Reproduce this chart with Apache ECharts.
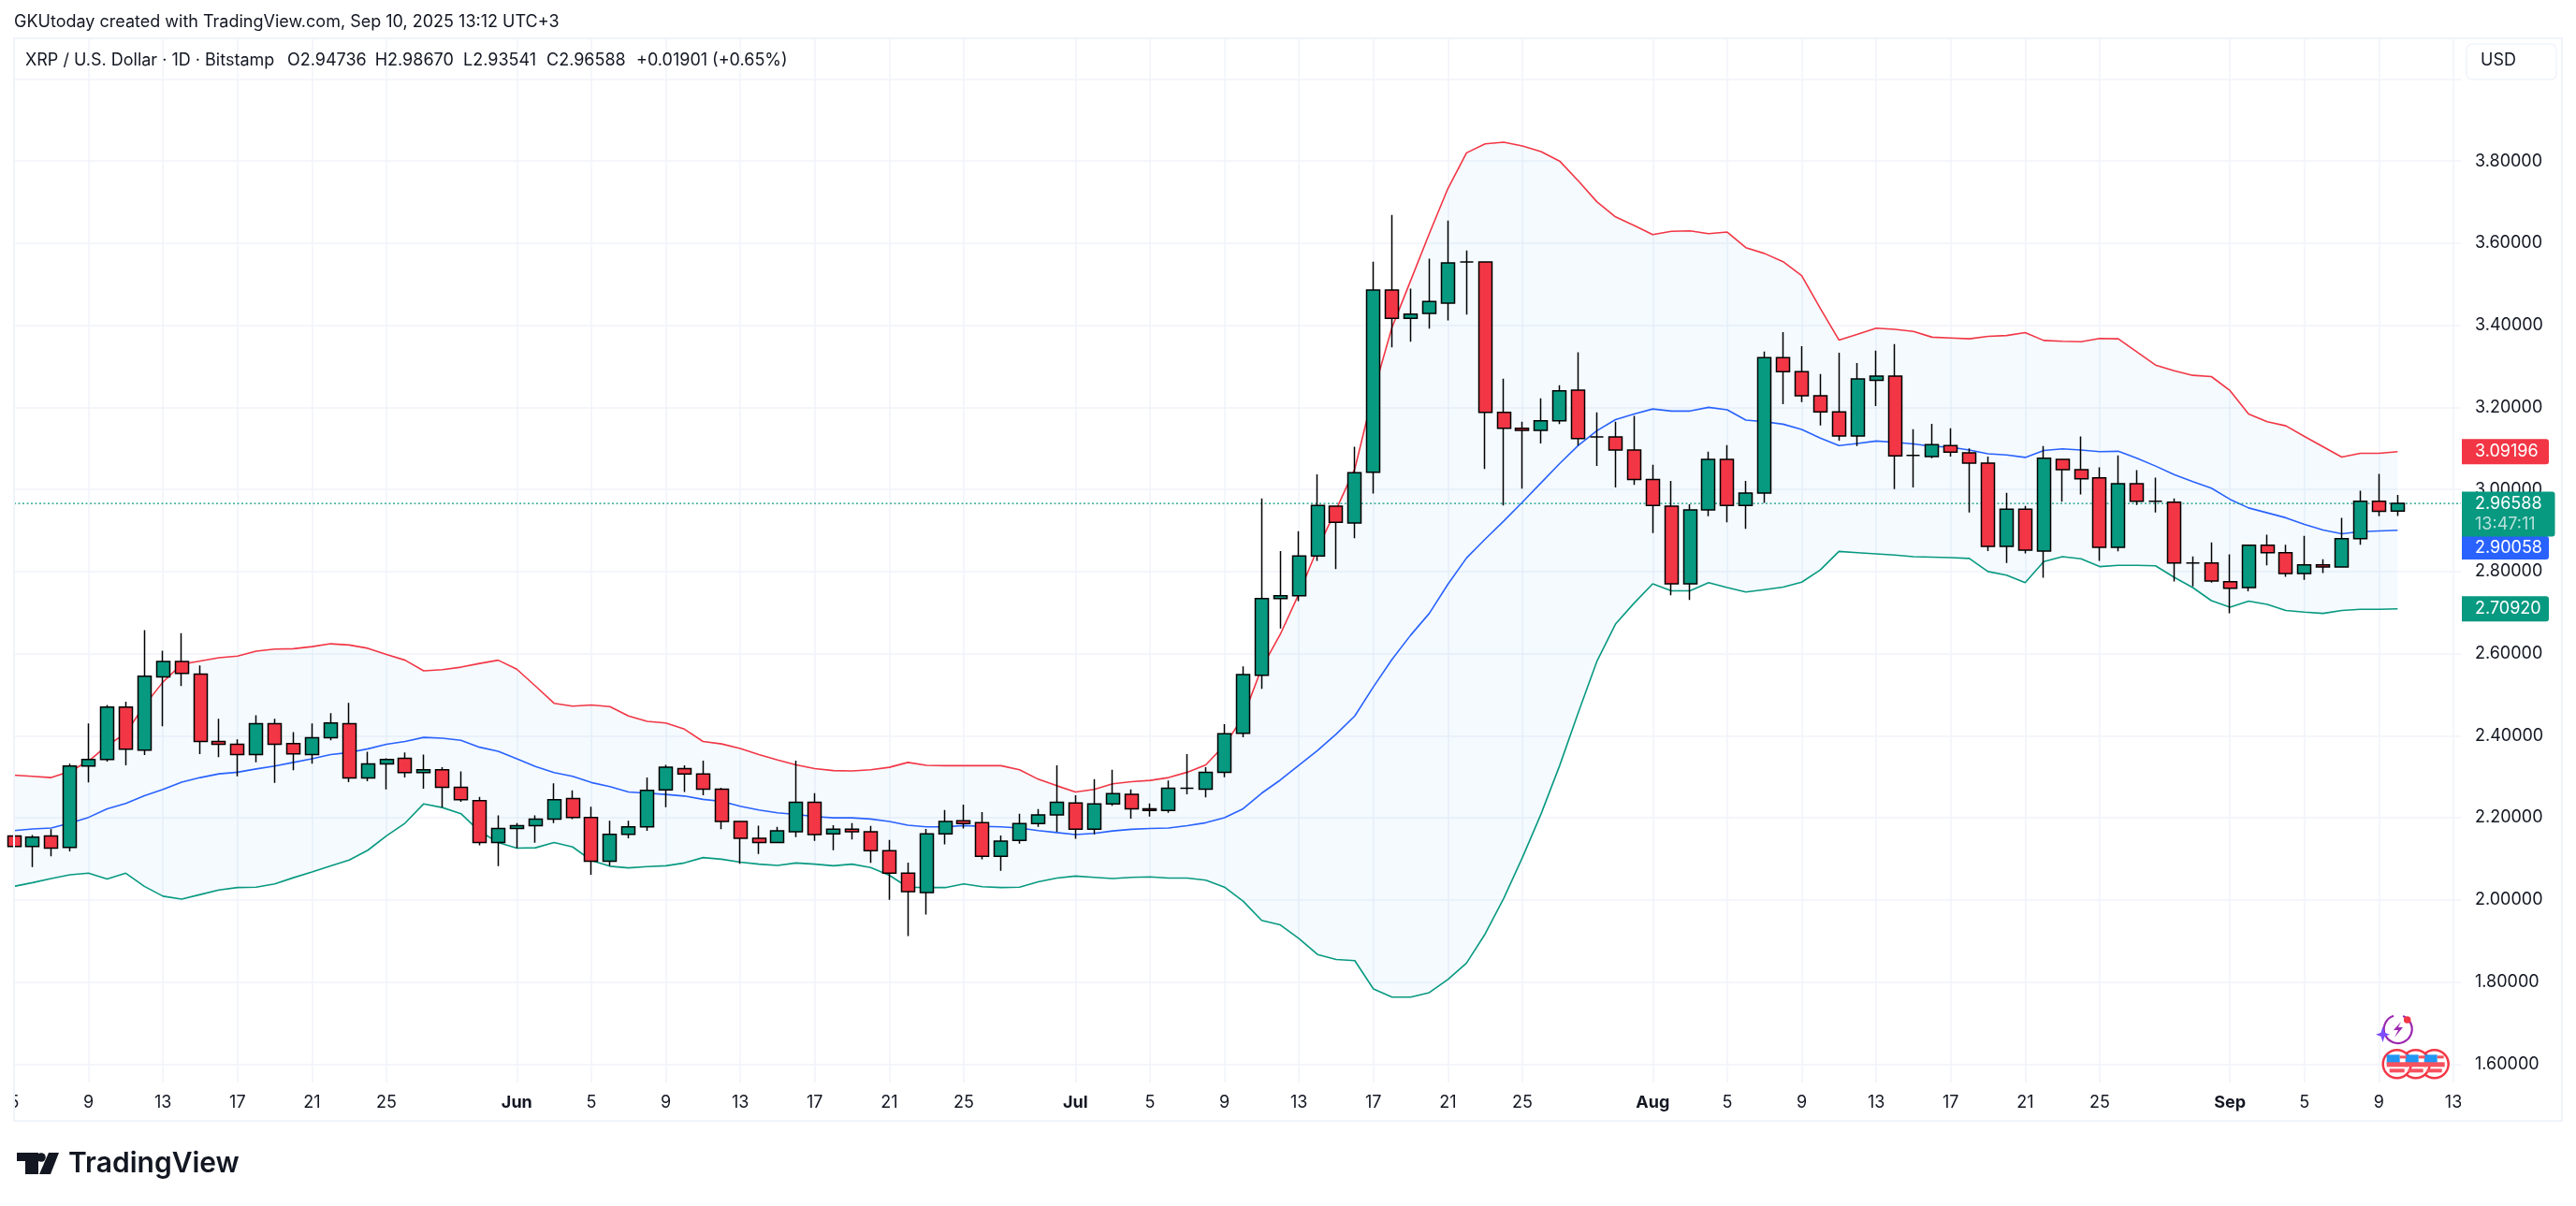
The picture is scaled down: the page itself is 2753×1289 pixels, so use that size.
<!DOCTYPE html>
<html>
<head>
<meta charset="utf-8">
<title>XRP / U.S. Dollar</title>
<script src="https://cdn.jsdelivr.net/npm/echarts@6/dist/echarts.min.js"></script>
<style>
  html, body { margin: 0; padding: 0; background: #fff; }
  #chart { width: 2753px; height: 1289px; }
</style>
</head>
<body>
<div id="chart"></div>
<script>
// Daily candles, index 0 = May 5, index 128 = Sep 10
const opens = [
  2.156,2.130,2.156,2.128,2.326,2.342,2.470,2.365,2.543,2.581,
  2.550,2.386,2.379,2.354,2.429,2.381,2.354,2.395,2.429,2.297,
  2.331,2.345,2.310,2.317,2.274,2.242,2.140,2.174,2.181,2.197,
  2.247,2.201,2.094,2.160,2.178,2.268,2.320,2.307,2.270,2.191,
  2.150,2.140,2.166,2.238,2.161,2.172,2.166,2.120,2.065,2.018,
  2.161,2.193,2.188,2.106,2.145,2.186,2.207,2.236,2.172,2.234,
  2.257,2.222,2.218,2.272,2.270,2.311,2.406,2.547,2.734,2.741,
  2.838,2.959,2.918,3.042,3.486,3.417,3.429,3.454,3.554,3.554,
  3.188,3.149,3.144,3.167,3.242,3.128,3.128,3.096,3.024,2.959,
  2.770,2.950,3.073,2.961,2.991,3.321,3.287,3.228,3.189,3.130,
  3.266,3.276,3.083,3.080,3.107,3.089,3.064,2.861,2.952,2.850,
  3.073,3.048,3.028,2.859,3.014,2.971,2.969,2.821,2.821,2.775,
  2.761,2.864,2.846,2.795,2.816,2.811,2.880,2.971,2.94736
];
const closes = [
  2.130,2.153,2.126,2.326,2.342,2.470,2.367,2.545,2.581,2.552,
  2.386,2.379,2.354,2.429,2.379,2.356,2.395,2.431,2.297,2.331,
  2.342,2.310,2.317,2.274,2.244,2.140,2.174,2.181,2.197,2.244,
  2.201,2.094,2.160,2.178,2.267,2.323,2.307,2.270,2.191,2.150,
  2.140,2.168,2.238,2.159,2.172,2.166,2.120,2.065,2.020,2.161,
  2.191,2.186,2.106,2.143,2.186,2.207,2.238,2.172,2.234,2.259,
  2.222,2.218,2.272,2.272,2.311,2.405,2.549,2.734,2.741,2.838,
  2.961,2.920,3.041,3.486,3.417,3.427,3.458,3.552,3.554,3.188,
  3.149,3.144,3.167,3.240,3.124,3.128,3.096,3.024,2.961,2.770,
  2.950,3.073,2.961,2.991,3.321,3.287,3.228,3.189,3.130,3.269,
  3.276,3.082,3.083,3.109,3.091,3.064,2.861,2.952,2.852,3.076,
  3.048,3.026,2.859,3.014,2.971,2.971,2.821,2.821,2.777,2.759,
  2.864,2.846,2.795,2.816,2.811,2.880,2.971,2.947,2.96588
];
const highs = [
  2.156,2.158,2.172,2.332,2.430,2.475,2.483,2.657,2.607,2.650,
  2.571,2.441,2.391,2.450,2.441,2.409,2.430,2.455,2.480,2.361,
  2.345,2.359,2.354,2.323,2.313,2.251,2.206,2.187,2.206,2.284,
  2.267,2.227,2.193,2.193,2.298,2.329,2.328,2.339,2.273,2.193,
  2.181,2.178,2.339,2.260,2.182,2.187,2.180,2.146,2.091,2.173,
  2.219,2.232,2.214,2.157,2.210,2.221,2.328,2.255,2.294,2.317,
  2.269,2.235,2.291,2.355,2.323,2.428,2.569,2.978,2.850,2.898,
  3.037,2.959,3.104,3.555,3.669,3.489,3.562,3.655,3.582,3.554,
  3.270,3.165,3.222,3.254,3.334,3.188,3.165,3.179,3.060,3.021,
  2.964,3.092,3.108,3.021,3.336,3.383,3.349,3.281,3.333,3.308,
  3.338,3.354,3.147,3.160,3.149,3.100,3.080,2.992,2.960,3.106,
  3.073,3.129,3.054,3.083,3.047,3.029,2.978,2.837,2.871,2.842,
  2.866,2.890,2.865,2.887,2.830,2.931,2.997,3.038,2.98670
];
const lows = [
  2.130,2.080,2.106,2.118,2.286,2.337,2.328,2.353,2.423,2.521,
  2.355,2.348,2.301,2.335,2.285,2.316,2.332,2.389,2.287,2.289,
  2.269,2.298,2.271,2.225,2.239,2.133,2.082,2.126,2.139,2.187,
  2.197,2.061,2.083,2.150,2.168,2.226,2.263,2.255,2.172,2.088,
  2.112,2.140,2.153,2.144,2.121,2.147,2.090,2.000,1.912,1.964,
  2.135,2.174,2.099,2.071,2.137,2.178,2.166,2.149,2.160,2.229,
  2.198,2.203,2.212,2.257,2.250,2.299,2.396,2.514,2.661,2.728,
  2.826,2.806,2.881,2.990,3.346,3.360,3.392,3.412,3.426,3.050,
  2.961,3.002,3.112,3.159,3.107,3.057,3.005,3.011,2.894,2.742,
  2.731,2.935,2.920,2.904,2.967,3.208,3.213,3.156,3.119,3.106,
  3.203,3.001,3.005,3.076,3.080,2.944,2.850,2.821,2.844,2.785,
  2.970,2.988,2.826,2.849,2.962,2.944,2.776,2.764,2.773,2.698,
  2.752,2.815,2.787,2.780,2.796,2.811,2.865,2.935,2.93541
];

// Bollinger bands
const bbUpper = [
  2.304,2.301,2.298,2.313,2.338,2.376,2.406,2.474,2.531,2.574,
  2.582,2.590,2.594,2.606,2.611,2.612,2.617,2.624,2.621,2.613,
  2.598,2.584,2.558,2.561,2.567,2.576,2.584,2.562,2.521,2.479,
  2.472,2.475,2.471,2.448,2.435,2.431,2.416,2.386,2.380,2.369,
  2.354,2.341,2.329,2.320,2.315,2.314,2.317,2.323,2.335,2.328,
  2.327,2.327,2.327,2.327,2.317,2.294,2.278,2.263,2.269,2.283,
  2.288,2.291,2.298,2.311,2.329,2.377,2.445,2.565,2.647,2.746,
  2.856,2.951,3.050,3.236,3.395,3.509,3.623,3.733,3.820,3.842,
  3.846,3.837,3.823,3.800,3.752,3.701,3.664,3.643,3.621,3.629,
  3.630,3.623,3.627,3.589,3.575,3.555,3.521,3.441,3.364,3.378,
  3.393,3.390,3.385,3.371,3.369,3.367,3.373,3.375,3.382,3.363,
  3.361,3.360,3.368,3.367,3.335,3.303,3.289,3.278,3.275,3.241,
  3.184,3.165,3.155,3.129,3.104,3.079,3.088,3.088,3.09196
];
const bbBasis = [
  2.169,2.173,2.175,2.187,2.201,2.222,2.235,2.254,2.269,2.287,
  2.298,2.307,2.311,2.319,2.326,2.335,2.344,2.354,2.359,2.368,
  2.379,2.386,2.396,2.394,2.389,2.372,2.362,2.344,2.325,2.310,
  2.301,2.286,2.276,2.263,2.260,2.257,2.253,2.245,2.240,2.228,
  2.219,2.212,2.208,2.203,2.200,2.200,2.197,2.191,2.182,2.178,
  2.178,2.181,2.179,2.178,2.175,2.169,2.164,2.159,2.162,2.168,
  2.172,2.174,2.175,2.181,2.188,2.200,2.222,2.260,2.292,2.328,
  2.364,2.404,2.448,2.519,2.586,2.645,2.698,2.769,2.833,2.879,
  2.923,2.969,3.016,3.063,3.107,3.143,3.170,3.184,3.196,3.191,
  3.191,3.200,3.194,3.169,3.165,3.159,3.146,3.125,3.107,3.112,
  3.118,3.115,3.111,3.105,3.103,3.096,3.087,3.084,3.078,3.095,
  3.099,3.096,3.092,3.093,3.076,3.057,3.036,3.019,3.003,2.976,
  2.955,2.943,2.931,2.915,2.901,2.892,2.897,2.899,2.90058
];
const bbLower = [
  2.033,2.042,2.052,2.061,2.065,2.051,2.065,2.033,2.009,2.002,
  2.013,2.024,2.030,2.031,2.039,2.054,2.068,2.083,2.097,2.121,
  2.156,2.187,2.234,2.225,2.210,2.167,2.140,2.126,2.127,2.140,
  2.129,2.096,2.082,2.078,2.081,2.083,2.090,2.103,2.099,2.092,
  2.087,2.084,2.090,2.087,2.083,2.087,2.079,2.060,2.031,2.030,
  2.030,2.039,2.032,2.030,2.031,2.044,2.053,2.058,2.055,2.052,
  2.055,2.056,2.053,2.053,2.048,2.031,1.997,1.950,1.939,1.906,
  1.867,1.855,1.852,1.783,1.763,1.763,1.774,1.806,1.846,1.917,
  2.004,2.103,2.209,2.327,2.456,2.581,2.672,2.723,2.770,2.753,
  2.753,2.773,2.761,2.750,2.756,2.762,2.774,2.804,2.849,2.846,
  2.843,2.840,2.836,2.835,2.834,2.832,2.800,2.791,2.773,2.824,
  2.836,2.831,2.812,2.815,2.815,2.814,2.786,2.761,2.729,2.713,
  2.728,2.720,2.705,2.701,2.698,2.705,2.708,2.708,2.70920
];

// Axis ticks
const dateTicks = [0,4,8,12,16,20,27,31,35,39,43,47,51,57,61,65,69,73,77,81,88,92,96,100,104,108,112,119,123,127,131];
const dateLabels = ['5','9','13','17','21','25','Jun','5','9','13','17','21','25','Jul','5','9','13','17','21','25','Aug','5','9','13','17','21','25','Sep','5','9','13'];
const priceTicks = [1.6,1.8,2.0,2.2,2.4,2.6,2.8,3.0,3.2,3.4,3.6,3.8,4.0];
const priceLabels = [1.6,1.8,2.0,2.2,2.4,2.6,2.8,3.0,3.2,3.4,3.6,3.8];

const lastPrice = 2.96588;
const lastUpper = 3.09196;
const lastBasis = 2.90058;
const lastLower = 2.70920;

const FONT = 'Inter, "Noto Sans", sans-serif';
const TEXT = '#131722';
const GREEN = '#089981';
const RED = '#F23645';
const BLUE = '#2962FF';
const GRID = '#f0f3fa';

const chart = echarts.init(document.getElementById('chart'), null, { renderer: 'canvas' });

function toLine(values) {
    return values.map((v, i) => [i, v]);
}

// fill between the outer bands
function renderBand(params, api) {
    const top = bbUpper.map((v, i) => api.coord([i, v]));
    const bottom = bbLower.map((v, i) => api.coord([i, v])).reverse();
    return {
        type: 'polygon',
        shape: { points: top.concat(bottom) },
        style: { fill: 'rgba(33,150,243,0.05)' }
    };
}

const option = {
    animation: false,
    backgroundColor: '#fff',
    grid: { left: 15, right: 123, top: 41, bottom: 132 },
    xAxis: {
        type: 'value',
        min: 0,
        max: 131.4,
        axisLine: { show: false },
        axisTick: { show: false, customValues: dateTicks },
        splitLine: { show: true, lineStyle: { color: GRID, width: 1.5 } },
        axisLabel: {
            customValues: dateTicks,
            showMinLabel: true,
            showMaxLabel: true,
            hideOverlap: false,
            margin: 13,
            fontFamily: FONT,
            fontSize: 18,
            color: TEXT,
            formatter: value => {
                const label = dateLabels[dateTicks.indexOf(value)];
                return isNaN(label) ? '{m|' + label + '}' : label;
            },
            rich: { m: { fontFamily: FONT, fontSize: 18, fontWeight: 700, color: TEXT } }
        }
    },
    yAxis: {
        type: 'value',
        position: 'right',
        min: 1.5551,
        max: 4.099,
        axisLine: { show: false },
        axisTick: { show: false, customValues: priceTicks },
        splitLine: { show: true, lineStyle: { color: GRID, width: 1.5 } },
        axisLabel: {
            customValues: priceLabels,
            margin: 15,
            fontFamily: FONT,
            fontSize: 18,
            color: TEXT,
            formatter: value => value.toFixed(5)
        }
    },
    series: [
        {
            type: 'custom', silent: true, z: 1,
            renderItem: renderBand,
            encode: { x: 0, y: 1 },
            data: [[0, bbLower[0]]]
        },
        { type: 'line', symbol: 'none', silent: true, z: 2, lineStyle: { color: RED, width: 1.6 }, data: toLine(bbUpper) },
        { type: 'line', symbol: 'none', silent: true, z: 2, lineStyle: { color: BLUE, width: 1.6 }, data: toLine(bbBasis) },
        { type: 'line', symbol: 'none', silent: true, z: 2, lineStyle: { color: GREEN, width: 1.6 }, data: toLine(bbLower) },
        // last price line
        {
            type: 'line', symbol: 'none', silent: true, z: 3,
            lineStyle: { color: GREEN, width: 1.2, type: [2, 2.5] },
            data: [[0, lastPrice], [131.4, lastPrice]]
        },
        {
            type: 'candlestick',
            z: 4,
            barWidth: 14.5,
            itemStyle: {
                color: GREEN,
                color0: RED,
                borderColor: '#000',
                borderColor0: '#000',
                borderColorDoji: '#000',
                borderWidth: 1.5
            },
            data: opens.map((o, i) => [i, o, closes[i], lows[i], highs[i]])
        }
    ]
};
chart.setOption(option);

// y pixel of a price, so the axis badges follow the scale
function priceY(value) {
    return chart.convertToPixel({ yAxisIndex: 0 }, value);
}

function label(x, y, text) {
    return { type: 'text', z: 20, style: { x: x, y: y, text: text, fill: TEXT, font: '18px ' + FONT, textVerticalAlign: 'middle' } };
}

function badge(y, h, w, fill, text) {
    return [
        { type: 'rect', z: 20, shape: { x: 2631, y: y, width: w, height: h, r: [0, 3, 3, 0] }, style: { fill: fill } },
        { type: 'text', z: 21, style: { x: 2645, y: y + h / 2, text: text, fill: '#fff', font: '18px ' + FONT, textVerticalAlign: 'middle' } }
    ];
}

function flagIcon(cx, cy) {
    return [
        { type: 'circle', z: 22, shape: { cx: cx, cy: cy, r: 15 }, style: { fill: '#fff', stroke: RED, lineWidth: 2.5 } },
        { type: 'rect', z: 23, shape: { x: cx - 11, y: cy - 10, width: 14, height: 10 }, style: { fill: '#2196F3' } },
        { type: 'rect', z: 23, shape: { x: cx + 3, y: cy - 9, width: 7, height: 3 }, style: { fill: '#F7525F' } },
        { type: 'rect', z: 23, shape: { x: cx - 11, y: cy - 2, width: 22, height: 5 }, style: { fill: '#F7525F' } },
        { type: 'rect', z: 23, shape: { x: cx - 8, y: cy + 5, width: 16, height: 4 }, style: { fill: '#F7525F' } }
    ];
}

const upperY = priceY(lastUpper);
const lastY = priceY(lastPrice);
const lowerY = priceY(lastLower);

chart.setOption({
    graphic: [
        // chart frame and clipping of the edge date labels
        { type: 'rect', z: 10, shape: { x: 0, y: 1158, width: 14, height: 40 }, style: { fill: '#fff' } },
        { type: 'rect', z: 10, shape: { x: 2630, y: 1158, width: 107, height: 40 }, style: { fill: '#fff' } },
        { type: 'rect', z: 11, shape: { x: 15, y: 41, width: 2723, height: 1157 }, style: { fill: 'none', stroke: GRID, lineWidth: 2 } },

        label(15, 24, 'GKUtoday created with TradingView.com, Sep 10, 2025 13:12 UTC+3'),
        label(27, 65, 'XRP / U.S. Dollar · 1D · Bitstamp'),
        label(307, 65, 'O2.94736'),
        label(400.7, 65, 'H2.98670'),
        label(495, 65, 'L2.93541'),
        label(584, 65, 'C2.96588'),
        label(680, 65, '+0.01901 (+0.65%)'),

        { type: 'rect', z: 20, shape: { x: 2636, y: 47, width: 96, height: 38, r: 6 }, style: { fill: '#fff', stroke: GRID, lineWidth: 1.5 } },
        { type: 'text', z: 21, style: { x: 2651, y: 65, text: 'USD', fill: TEXT, font: '18px ' + FONT, textVerticalAlign: 'middle' } },

        // price badges on the axis
        ...badge(upperY - 13.5, 27, 93, RED, lastUpper.toFixed(5)),
        ...badge(lowerY - 13.5, 27, 93, GREEN, lastLower.toFixed(5)),
        ...badge(573, 25, 93, BLUE, lastBasis.toFixed(5)),
        { type: 'rect', z: 22, shape: { x: 2631, y: lastY - 12.5, width: 99.5, height: 48, r: [0, 3, 3, 0] }, style: { fill: GREEN } },
        { type: 'text', z: 23, style: { x: 2645, y: lastY, text: lastPrice.toFixed(5), fill: '#fff', font: '18px ' + FONT, textVerticalAlign: 'middle' } },
        { type: 'text', z: 23, style: { x: 2645, y: lastY + 22, text: '13:47:11', fill: 'rgba(255,255,255,0.7)', font: '18px ' + FONT, textVerticalAlign: 'middle' } },

        // event icons near Sep 10
        ...flagIcon(2601.7, 1137.3),
        ...flagIcon(2581.7, 1137.3),
        ...flagIcon(2561.7, 1137.3),
        { type: 'arc', z: 22, shape: { cx: 2562.7, cy: 1100, r: 15, startAngle: -1.2, endAngle: 4.4 }, style: { fill: 'none', stroke: '#9C27B0', lineWidth: 2.2 } },
        { type: 'polygon', z: 23, shape: { points: [[2566, 1092], [2558, 1101], [2563, 1101], [2559, 1109], [2568, 1098], [2563, 1098]] }, style: { fill: '#9C27B0' } },
        { type: 'circle', z: 23, shape: { cx: 2572.7, cy: 1090, r: 3.8 }, style: { fill: RED } },
        { type: 'polygon', z: 24, shape: { points: [[2546.5, 1097], [2548.5, 1103.7], [2554, 1105.7], [2548.5, 1107.7], [2546.5, 1114], [2544.5, 1107.7], [2539, 1105.7], [2544.5, 1103.7]] }, style: { fill: '#7C4DFF' } },

        // TradingView logo
        { type: 'polygon', z: 20, shape: { points: [[18, 1232], [41, 1232], [41, 1255], [27, 1255], [27, 1241], [18, 1241]] }, style: { fill: '#131722' } },
        { type: 'circle', z: 20, shape: { cx: 44, cy: 1237, r: 4.8 }, style: { fill: '#131722' } },
        { type: 'polygon', z: 20, shape: { points: [[52, 1232], [63, 1232], [54, 1255], [42, 1255]] }, style: { fill: '#131722' } },
        { type: 'text', z: 20, style: { x: 73, y: 1244, text: 'TradingView', fill: '#131722', font: '600 30px ' + FONT, textVerticalAlign: 'middle' } }
    ]
});
</script>
</body>
</html>
